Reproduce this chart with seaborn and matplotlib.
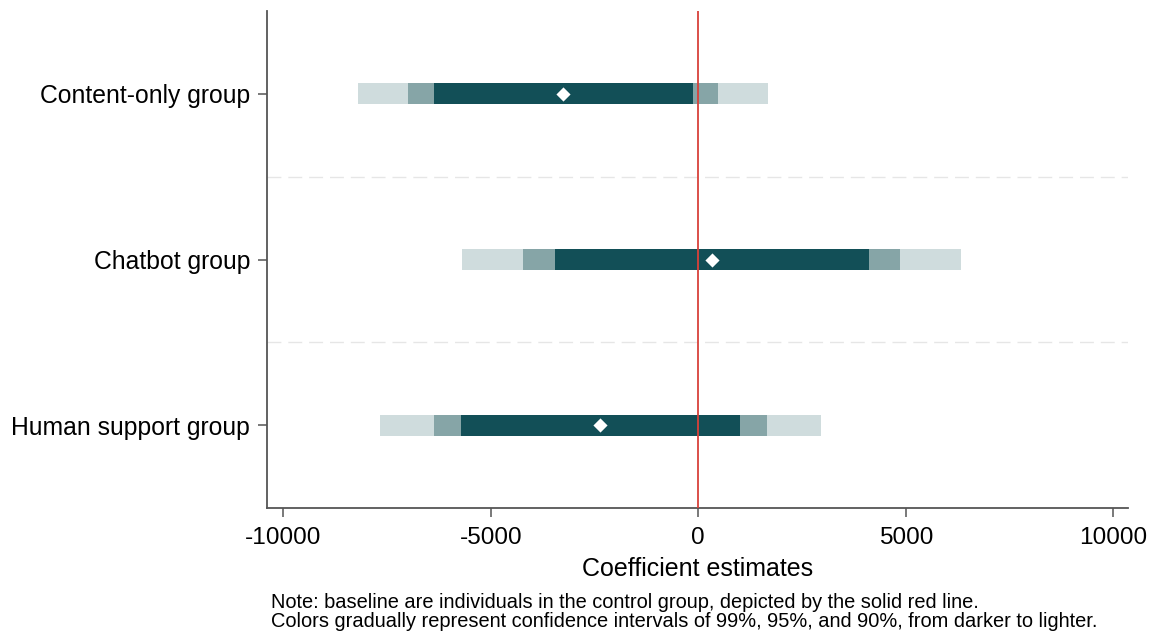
import matplotlib
matplotlib.use("Agg")
import matplotlib.pyplot as plt
import numpy as np
import pandas as pd
import seaborn as sns

# Coefficient estimates by treatment group (control group is the baseline)
groups = ["Content-only group", "Chatbot group", "Human support group"]
estimates = [-3250, 330, -2355]

# Interval bounds, from the narrowest (darkest) to the widest (lightest)
narrow_lo = [-6360, -3450, -5720]
narrow_hi = [-120, 4110, 1000]
mid_lo = [-6990, -4220, -6370]
mid_hi = [480, 4860, 1660]
wide_lo = [-8190, -5680, -7670]
wide_hi = [1690, 6340, 2960]

xticks = [-10000, -5000, 0, 5000, 10000]

note_lines = [
    "Note: baseline are individuals in the control group, depicted by the solid red line.",
    "Colors gradually represent confidence intervals of 99%, 95%, and 90%, from darker to lighter.",
]

sns.set_theme(style="ticks")
plt.rcParams["font.family"] = ["Liberation Sans", "DejaVu Sans"]
plt.rcParams["axes.unicode_minus"] = False

df = pd.DataFrame({
    "group": groups,
    "estimate": estimates,
    "pos": [3, 2, 1],
})

fig = plt.figure(figsize=(11.56, 6.35), dpi=100)
ax = fig.add_axes([267 / 1156, 1 - 508 / 635, (1128 - 267) / 1156, (508 - 11) / 635])

bar_h = 0.127
layers = [
    (wide_lo, wide_hi, "#cfdcdd"),
    (mid_lo, mid_hi, "#86a5a7"),
    (narrow_lo, narrow_hi, "#124f57"),
]
for lo, hi, col in layers:
    lo = np.asarray(lo, dtype=float)
    hi = np.asarray(hi, dtype=float)
    ax.barh(df["pos"], hi - lo, left=lo, height=bar_h, color=col,
            edgecolor="none", zorder=2)

# separators between groups
for y in [1.5, 2.5]:
    ax.axhline(y, color="#e6e6e6", lw=1.0, ls=(0, (10, 5)), zorder=1)

# baseline (control group)
ax.axvline(0, color="#d8413a", lw=1.3, zorder=3)

sns.scatterplot(data=df, x="estimate", y="pos", marker="D", s=52,
                color="white", linewidth=0, zorder=4, ax=ax, legend=False)

ax.set_xlim(-10390, 10355)
ax.set_ylim(0.5, 3.5)
ax.set_xticks(xticks)
ax.set_xticklabels([str(t) for t in xticks])
ax.set_yticks(df["pos"])
ax.set_yticklabels(groups)

for side in ["top", "right"]:
    ax.spines[side].set_visible(False)
for side in ["left", "bottom"]:
    ax.spines[side].set_color("#555555")
    ax.spines[side].set_linewidth(1.3)

ax.tick_params(axis="x", length=6.5, width=1.1, color="#555555", pad=7,
               labelsize=17.6, labelcolor="black")
ax.tick_params(axis="y", length=6.2, width=1.1, color="#555555", pad=6,
               labelsize=17.8, labelcolor="black")

ax.set_xlabel("Coefficient estimates", fontsize=18, labelpad=6, color="black")
ax.set_ylabel("")

fig.text(271 / 1156, 1 - 608 / 635, note_lines[0], fontsize=14.4,
         va="baseline", ha="left", color="black")
fig.text(271 / 1156, 1 - 627 / 635, note_lines[1], fontsize=14.4,
         va="baseline", ha="left", color="black")

fig.savefig("out.png", dpi=100)
